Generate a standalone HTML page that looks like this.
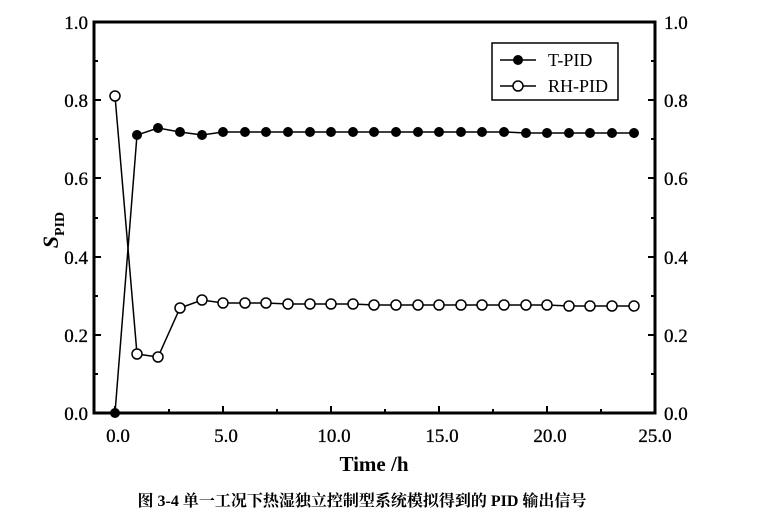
<!DOCTYPE html>
<html><head><meta charset="utf-8"><style>
body{margin:0;background:#fff;}
svg text{font-family:"Liberation Serif","Noto Serif CJK SC",serif;fill:#000;}
</style></head><body>
<svg width="761" height="526" xmlns="http://www.w3.org/2000/svg">
<rect width="761" height="526" fill="#fff"/>
<g stroke="#000" stroke-width="2">
<path d="M94,413h7M94,374h4M94,335h7M94,296h4M94,257h7M94,218h4M94,178h7M94,139h4M94,100h7M94,61h4M94,22h7"/>
<path d="M655,413h-7M655,374h-4M655,335h-7M655,296h-4M655,257h-7M655,218h-4M655,178h-7M655,139h-4M655,100h-7M655,61h-4M655,22h-7"/>
<path d="M115,413v-7M169,413v-4M223,413v-7M277,413v-4M331,413v-7M385,413v-4M439,413v-7M493,413v-4M547,413v-7M601,413v-4M655,413v-7"/>
</g>
<rect x="94" y="22" width="561" height="391" fill="none" stroke="#000" stroke-width="3"/>
<g font-size="19" text-anchor="end" stroke="#000" stroke-width="0.3">
<text x="88" y="29">1.0</text><text x="88" y="107">0.8</text><text x="88" y="185">0.6</text><text x="88" y="264">0.4</text><text x="88" y="342">0.2</text><text x="88" y="420">0.0</text>
</g>
<g font-size="19" stroke="#000" stroke-width="0.3">
<text x="664" y="29">1.0</text><text x="664" y="107">0.8</text><text x="664" y="185">0.6</text><text x="664" y="264">0.4</text><text x="664" y="342">0.2</text><text x="664" y="420">0.0</text>
</g>
<g font-size="19" text-anchor="middle" stroke="#000" stroke-width="0.3">
<text x="118" y="442">0.0</text><text x="226" y="442">5.0</text><text x="334" y="442">10.0</text><text x="442" y="442">15.0</text><text x="550" y="442">20.0</text><text x="655" y="442">25.0</text>
</g>
<text x="374" y="471" font-size="21" font-weight="bold" text-anchor="middle">Time /h</text>
<text transform="translate(58,230) rotate(-90)" font-size="22" font-style="italic" font-weight="bold" text-anchor="middle">S<tspan font-size="14" font-style="normal" dy="6">PID</tspan></text>
<polyline fill="none" stroke="#000" stroke-width="1.5" points="115,413 137,135 158,128 180,132 202,135 223,132 245,132 266,132 288,132 310,132 331,132 353,132 374,132 396,132 418,132 439,132 461,132 482,132 504,132 526,133 547,133 569,133 590,133 612,133 634,133"/>
<g fill="#000">
<circle cx="115" cy="413" r="5"/><circle cx="137" cy="135" r="5"/><circle cx="158" cy="128" r="5"/><circle cx="180" cy="132" r="5"/><circle cx="202" cy="135" r="5"/><circle cx="223" cy="132" r="5"/><circle cx="245" cy="132" r="5"/><circle cx="266" cy="132" r="5"/><circle cx="288" cy="132" r="5"/><circle cx="310" cy="132" r="5"/><circle cx="331" cy="132" r="5"/><circle cx="353" cy="132" r="5"/><circle cx="374" cy="132" r="5"/><circle cx="396" cy="132" r="5"/><circle cx="418" cy="132" r="5"/><circle cx="439" cy="132" r="5"/><circle cx="461" cy="132" r="5"/><circle cx="482" cy="132" r="5"/><circle cx="504" cy="132" r="5"/><circle cx="526" cy="133" r="5"/><circle cx="547" cy="133" r="5"/><circle cx="569" cy="133" r="5"/><circle cx="590" cy="133" r="5"/><circle cx="612" cy="133" r="5"/><circle cx="634" cy="133" r="5"/>
</g>
<polyline fill="none" stroke="#000" stroke-width="1.5" points="115,96 137,354 158,357 180,308 202,300 223,303 245,303 266,303 288,304 310,304 331,304 353,304 374,305 396,305 418,305 439,305 461,305 482,305 504,305 526,305 547,305 569,306 590,306 612,306 634,306"/>
<g fill="#fff" stroke="#000" stroke-width="1.5">
<circle cx="115" cy="96" r="5"/><circle cx="137" cy="354" r="5"/><circle cx="158" cy="357" r="5"/><circle cx="180" cy="308" r="5"/><circle cx="202" cy="300" r="5"/><circle cx="223" cy="303" r="5"/><circle cx="245" cy="303" r="5"/><circle cx="266" cy="303" r="5"/><circle cx="288" cy="304" r="5"/><circle cx="310" cy="304" r="5"/><circle cx="331" cy="304" r="5"/><circle cx="353" cy="304" r="5"/><circle cx="374" cy="305" r="5"/><circle cx="396" cy="305" r="5"/><circle cx="418" cy="305" r="5"/><circle cx="439" cy="305" r="5"/><circle cx="461" cy="305" r="5"/><circle cx="482" cy="305" r="5"/><circle cx="504" cy="305" r="5"/><circle cx="526" cy="305" r="5"/><circle cx="547" cy="305" r="5"/><circle cx="569" cy="306" r="5"/><circle cx="590" cy="306" r="5"/><circle cx="612" cy="306" r="5"/><circle cx="634" cy="306" r="5"/>
</g>
<rect x="492" y="43" width="126" height="57" fill="#fff" stroke="#000" stroke-width="1.5"/>
<line x1="500" y1="60" x2="536" y2="60" stroke="#000" stroke-width="1.5"/><circle cx="518" cy="60" r="5" fill="#000"/>
<line x1="500" y1="86" x2="536" y2="86" stroke="#000" stroke-width="1.5"/><circle cx="518" cy="86" r="5" fill="#fff" stroke="#000" stroke-width="1.5"/>
<text x="548" y="66" font-size="18">T-PID</text>
<text x="548" y="92" font-size="18">RH-PID</text>
<text x="362" y="506" font-size="16" font-weight="bold" text-anchor="middle">图 3-4  单一工况下热湿独立控制型系统模拟得到的 PID 输出信号</text>
</svg>
</body></html>
